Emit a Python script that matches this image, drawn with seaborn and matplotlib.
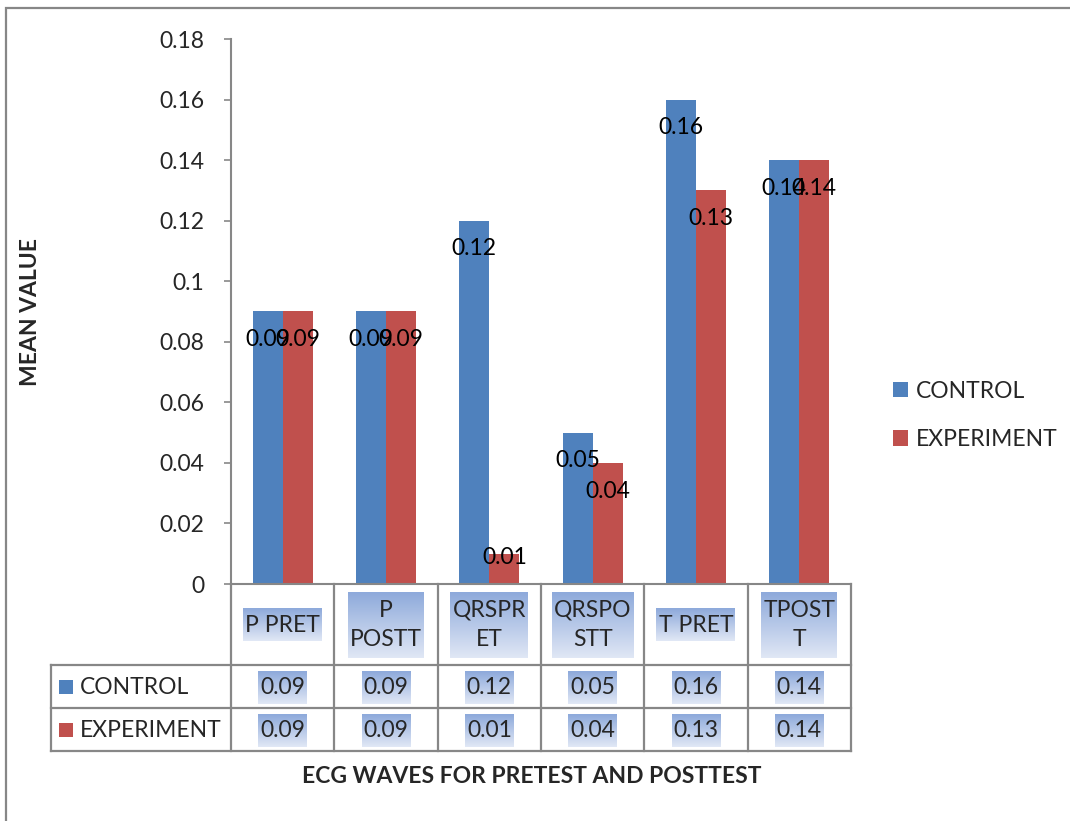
import numpy as np
import pandas as pd
import matplotlib
matplotlib.use("Agg")
import matplotlib.pyplot as plt
from matplotlib.patches import Rectangle
from matplotlib.lines import Line2D
from matplotlib.transforms import blended_transform_factory
import seaborn as sns

# ---- data -------------------------------------------------------------
waves = ["P PRET", "P POSTT", "QRSPRET", "QRSPOSTT", "T PRET", "TPOSTT"]
wave_headers = ["P PRET", "P\nPOSTT", "QRSPR\nET", "QRSPO\nSTT", "T PRET", "TPOST\nT"]
groups = ["CONTROL", "EXPERIMENT"]
control = [0.09, 0.09, 0.12, 0.05, 0.16, 0.14]
experiment = [0.09, 0.09, 0.01, 0.04, 0.13, 0.14]
y_ticks = [0, 0.02, 0.04, 0.06, 0.08, 0.1, 0.12, 0.14, 0.16, 0.18]
y_tick_labels = ["0", "0.02", "0.04", "0.06", "0.08", "0.1", "0.12", "0.14", "0.16", "0.18"]

df = pd.DataFrame({
    "wave": waves * 2,
    "group": [groups[0]] * len(waves) + [groups[1]] * len(waves),
    "value": control + experiment,
})

# ---- style ------------------------------------------------------------
W, H = 1070, 821
sns.set_theme(style="white")
plt.rcParams["font.family"] = ["Lato", "DejaVu Sans"]
FS = 16.5
GRAY = "#878787"
BLUE = "#4f81bd"
RED = "#c0504d"

fig = plt.figure(figsize=(W / 100, H / 100), dpi=100)
fig.patch.set_facecolor("white")


def fx(x):
    return x / W


def fy(y):
    return 1 - y / H


ax = fig.add_axes([fx(231), fy(584), fx(851) - fx(231), fy(39) - fy(584)])

sns.barplot(data=df, x="wave", y="value", hue="group", order=waves,
            hue_order=groups, palette=[BLUE, RED], width=0.58, gap=0,
            saturation=1, linewidth=0, ax=ax)

ax.set_xlim(-0.5, len(waves) - 0.5)
ax.set_ylim(0, 0.18)
ax.set_yticks(y_ticks)
ax.set_yticklabels(y_tick_labels, fontsize=FS)
ax.set_xlabel("")
ax.set_ylabel("")
ax.tick_params(axis="x", bottom=False, labelbottom=False)
ax.tick_params(axis="y", left=True, direction="out", length=5, width=1.2,
               color=GRAY, pad=14)
for side in ["top", "right"]:
    ax.spines[side].set_visible(False)
for side in ["left", "bottom"]:
    ax.spines[side].set_color(GRAY)
    ax.spines[side].set_linewidth(1.5)

# value labels at the inner end of each bar, kept above the baseline
for container in ax.containers:
    for bar in container:
        h = bar.get_height()
        cx = bar.get_x() + bar.get_width() / 2
        ax.text(cx, max(h - 0.0093, 0.0086), f"{h:g}", ha="center",
                va="center", fontsize=FS, color="black", zorder=5)

# right-hand legend
handles = [Rectangle((0, 0), 1, 1, facecolor=c, edgecolor="none") for c in (BLUE, RED)]
leg = ax.get_legend()
if leg is not None:
    leg.remove()
fig.legend(handles, groups, loc="center left",
           bbox_to_anchor=(fx(893), fy(415.5)), frameon=False, fontsize=FS,
           handlelength=0.66, handleheight=0.66, handletextpad=0.33,
           labelspacing=1.2, borderpad=0, borderaxespad=0)

# ---- data table under the plot ---------------------------------------
blend = blended_transform_factory(ax.transData, fig.transFigure)
n = len(waves)
col_edges = np.arange(n + 1) - 0.5
left_edge = -0.5 - 180 / (620 / n)
row_lines = [665, 708, 751]
line_kw = dict(color=GRAY, linewidth=1.6, solid_capstyle="projecting")

for xe in col_edges:
    fig.add_artist(Line2D([xe, xe], [fy(584), fy(751)], transform=blend, **line_kw))
fig.add_artist(Line2D([left_edge, left_edge], [fy(665), fy(751)], transform=blend, **line_kw))
for yl in row_lines:
    fig.add_artist(Line2D([left_edge, col_edges[-1]], [fy(yl), fy(yl)],
                          transform=blend, **line_kw))

highlighted = []
for i, head in enumerate(wave_headers):
    t = fig.text(i, fy(625), head, transform=blend, ha="center", va="center",
                 fontsize=FS, linespacing=1.5, zorder=5)
    highlighted.append((t, head.count("\n") + 1))
for r, (vals, yc) in enumerate([(control, 687), (experiment, 730)]):
    for i, v in enumerate(vals):
        t = fig.text(i, fy(yc), f"{v:.2f}", transform=blend, ha="center",
                     va="center", fontsize=FS, zorder=5)
        highlighted.append((t, 1))

for g, c, yc in zip(groups, (BLUE, RED), (687, 730)):
    fig.add_artist(Rectangle((fx(59), fy(yc + 7)), fx(14), 14 / H,
                             transform=fig.transFigure, facecolor=c,
                             edgecolor="none"))
    fig.text(fx(80), fy(yc), g, ha="left", va="center", fontsize=FS, zorder=5)

# gradient highlight behind the table texts
renderer = fig.canvas.get_renderer()
top_c = np.array([142, 170, 219]) / 255
bot_c = np.array([224, 231, 245]) / 255
for t, nl in highlighted:
    bb = t.get_window_extent(renderer=renderer)
    w = int(round(bb.width + 4))
    h = int(33 * nl)
    cx, cy = (bb.x0 + bb.x1) / 2, (bb.y0 + bb.y1) / 2
    frac = np.linspace(0, 1, h)[:, None, None]
    img = top_c[None, None, :] * (1 - frac) + bot_c[None, None, :] * frac
    img = np.repeat(img, w, axis=1)
    fig.figimage(img, xo=int(round(cx - w / 2)), yo=int(round(cy - h / 2)),
                 origin="upper", zorder=1)

# axis titles
fig.text(fx(532), fy(776), "ECG WAVES FOR PRETEST AND POSTTEST", ha="center",
         va="center", fontsize=16.5, fontweight="bold")
fig.text(fx(31), fy(312), "MEAN VALUE", ha="center", va="center",
         rotation=90, fontsize=16.5, fontweight="bold")

# outer chart border
fig.add_artist(Rectangle((fx(6), -0.1), 1.2, fy(8) + 0.1, transform=fig.transFigure,
                         facecolor="none", edgecolor=GRAY, linewidth=1.6))

fig.savefig("out.png", dpi=100, facecolor="white")
